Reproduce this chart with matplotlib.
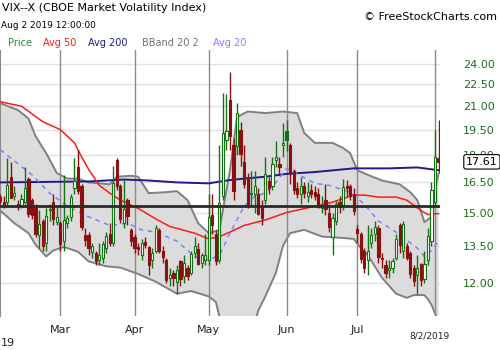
import matplotlib
matplotlib.use("Agg")
import matplotlib.pyplot as plt
from matplotlib.patches import Rectangle
from matplotlib.ticker import FixedLocator, NullLocator, FixedFormatter
import matplotlib.transforms as mtransforms

# daily candles, one per trading day from Feb 5 to Aug 2 2019
opens = [15.75, 15.5, 15.5, 16.8, 15.8, 15.25, 15.35, 15.5, 16.7, 15.6,
         15.2, 13.95, 14.6, 13.6, 15.1, 15.5, 14.55, 14.5, 13.7, 14.5,
         14.8, 16.2, 17.3, 16.3, 13.95, 13.95, 13.25, 13.2, 12.9, 13.0,
         13.4, 14.0, 13.6, 17.7, 16.3, 14.5, 15.6, 14.2, 13.9, 13.45,
         13.1, 13.65, 13.45, 12.9, 13.3, 14.2, 13.3, 12.9, 12.2, 12.4,
         12.05, 12.85, 12.25, 12.6, 12.4, 13.2, 13.35, 12.8, 12.9, 12.9,
         14.9, 14.0, 12.9, 15.8, 18.9, 21.4, 18.6, 18.5, 19.5, 17.6,
         16.8, 15.9, 15.9, 15.9, 15.3, 15.6, 16.55, 16.3, 17.7, 17.5,
         18.55, 19.4, 18.6, 17.1, 16.2, 15.9, 16.3, 15.8, 16.1, 16.0,
         15.9, 15.2, 15.6, 15.0, 13.9, 14.6, 15.5, 15.3, 16.3, 16.3,
         15.9, 14.25, 14.0, 13.3, 12.9, 13.6, 14.0, 14.3, 13.0, 12.7,
         12.5, 12.6, 13.0, 14.4, 13.3, 13.5, 13.2, 12.6, 12.3, 12.75,
         12.15, 12.9, 13.7, 15.5, 17.8]
highs = [15.9, 15.8, 17.8, 17.6, 16.3, 15.6, 15.9, 17.3, 16.8, 15.7,
         15.4, 15.1, 14.7, 15.2, 15.4, 15.9, 15.3, 14.6, 16.9, 14.9,
         15.9, 17.8, 18.3, 16.4, 14.3, 14.1, 13.6, 13.3, 13.6, 13.7,
         14.1, 14.5, 17.4, 17.8, 16.4, 16.6, 15.7, 14.3, 14.0, 13.6,
         13.8, 13.9, 13.5, 13.4, 14.4, 14.3, 13.5, 13.0, 12.6, 12.5,
         12.7, 12.9, 13.1, 12.7, 13.3, 13.9, 13.6, 13.2, 14.0, 15.9,
         15.9, 14.2, 18.6, 21.9, 21.8, 23.4, 19.0, 21.2, 20.0, 18.6,
         17.0, 17.1, 17.1, 16.2, 15.6, 17.9, 16.8, 17.9, 18.8, 17.9,
         19.9, 20.1, 18.7, 17.2, 16.5, 16.8, 16.5, 16.5, 16.4, 16.3,
         16.2, 15.8, 16.4, 15.4, 15.0, 15.6, 15.8, 16.7, 16.6, 16.4,
         16.2, 14.4, 14.1, 13.4, 14.4, 14.3, 14.6, 14.4, 13.2, 12.9,
         12.9, 13.0, 14.0, 14.5, 14.6, 13.6, 13.3, 12.7, 13.1, 12.8,
         13.3, 14.3, 16.5, 19.45, 20.1]
lows = [15.4, 15.2, 15.3, 15.7, 15.6, 15.1, 15.2, 15.4, 14.8, 14.7,
        13.9, 13.4, 13.3, 13.3, 14.6, 14.4, 14.4, 13.3, 13.3, 14.3,
        14.6, 15.9, 15.9, 14.2, 13.5, 13.1, 13.0, 12.7, 12.7, 12.8,
        13.2, 13.5, 13.5, 16.1, 14.5, 14.3, 14.4, 13.5, 13.2, 13.1,
        12.9, 13.4, 12.3, 12.6, 13.2, 13.2, 12.8, 12.0, 11.9, 11.9,
        11.6, 11.9, 12.0, 12.1, 12.3, 13.0, 12.7, 12.6, 12.7, 12.7,
        14.0, 12.7, 12.8, 15.6, 18.3, 18.3, 15.6, 18.0, 17.4, 16.2,
        15.2, 15.3, 15.0, 14.9, 14.4, 15.4, 15.9, 16.1, 17.3, 16.9,
        17.9, 18.2, 16.4, 15.9, 15.7, 15.4, 15.7, 15.5, 15.7, 15.6,
        15.2, 15.0, 14.9, 14.1, 13.1, 14.4, 15.0, 15.1, 15.8, 15.6,
        14.9, 13.6, 12.8, 12.4, 12.3, 13.4, 13.7, 12.8, 12.6, 12.2,
        12.2, 12.4, 12.9, 13.2, 13.0, 12.9, 12.2, 11.9, 11.6, 11.9,
        12.0, 12.7, 13.5, 15.3, 17.0]
closes = [15.57, 15.38, 16.37, 15.72, 15.97, 15.43, 15.65, 16.22, 14.91, 14.88,
          14.02, 14.46, 13.51, 14.85, 15.17, 14.70, 14.78, 13.57, 14.63, 14.74,
          15.74, 16.59, 16.05, 14.33, 13.77, 13.41, 13.50, 12.88, 13.10, 13.56,
          13.91, 13.63, 16.48, 16.33, 14.68, 15.15, 14.85, 13.71, 13.40, 13.36,
          13.60, 13.55, 12.70, 13.18, 14.28, 13.30, 13.02, 12.10, 12.32, 12.18,
          12.50, 12.15, 12.80, 12.28, 13.14, 13.50, 12.73, 13.11, 13.12, 14.80,
          14.42, 12.87, 15.44, 19.32, 19.40, 19.10, 16.04, 20.55, 18.06, 16.44,
          15.29, 15.96, 16.31, 14.95, 14.75, 16.92, 16.20, 17.50, 17.90, 17.30,
          18.71, 18.86, 16.97, 16.09, 15.93, 16.30, 15.94, 15.99, 15.91, 15.82,
          15.28, 15.35, 15.15, 14.33, 14.75, 15.40, 15.26, 16.28, 16.21, 15.82,
          15.08, 14.06, 12.93, 12.57, 13.28, 13.96, 14.35, 13.03, 12.93, 12.39,
          12.60, 12.86, 13.80, 13.53, 14.45, 13.00, 12.35, 12.07, 12.60, 12.10,
          12.75, 13.94, 16.12, 17.87, 17.61]

# indicator lines (trading-day number, value)
ma50_days = [0, 6, 9, 12, 17, 21, 23, 25, 28, 31, 34, 39, 44, 48, 55, 59, 62, 65,
             69, 75, 81, 89, 94, 100, 103, 107, 112, 115, 119, 121, 124]
ma50 = [21.3, 21.0, 20.5, 20.0, 19.5, 18.7, 17.9, 17.2, 16.35, 15.95, 15.6, 15.2,
        14.7, 14.35, 14.05, 13.8, 13.9, 14.1, 14.4, 14.65, 15.0, 15.3, 15.5, 15.85,
        15.85, 15.75, 15.75, 15.6, 15.1, 14.9, 14.95]
ma200_days = [0, 25, 35, 42, 50, 59, 64, 69, 75, 81, 89, 100, 110, 118, 122, 124]
ma200 = [16.5, 16.55, 16.65, 16.6, 16.5, 16.45, 16.6, 16.7, 16.8, 16.95, 17.05,
         17.25, 17.25, 17.3, 17.2, 17.15]
avg20_days = [0, 9, 14, 19, 25, 31, 36, 40, 44, 50, 53, 55, 59, 62, 65, 69, 72, 75,
              78, 81, 84, 89, 93, 99, 103, 107, 112, 118, 120, 122, 124]
avg20 = [18.3, 16.9, 15.95, 15.3, 14.8, 14.4, 14.5, 14.2, 14.1, 13.7, 13.3, 13.05,
         12.9, 13.1, 14.05, 15.3, 15.8, 15.95, 16.5, 17.25, 16.95, 16.45, 16.35, 16.0,
         15.4, 14.6, 14.1, 13.4, 13.05, 13.3, 13.7]
bb_up_days = [0, 5, 8, 10, 13, 16, 19, 22, 25, 31, 33, 37, 39, 42, 47, 50, 53, 56,
              59, 62, 65, 67, 70, 75, 80, 84, 86, 89, 94, 97, 99, 101, 104, 108,
              113, 116, 118, 120, 122, 123, 124]
bb_up = [21.2, 20.75, 20.2, 19.1, 18.1, 17.0, 16.7, 16.7, 16.5, 16.4, 16.8, 16.85,
         16.8, 15.95, 16.0, 16.05, 15.6, 14.5, 14.05, 14.2, 17.15, 20.3, 20.65, 20.55,
         20.65, 20.55, 19.3, 18.7, 18.7, 18.4, 18.1, 17.15, 16.9, 16.6, 16.4, 16.0,
         15.6, 14.55, 14.8, 16.2, 16.95]
bb_lo_days = [0, 4, 8, 10, 13, 15, 18, 22, 25, 30, 34, 39, 44, 50, 54, 59, 61, 62,
              65, 68, 71, 73, 75, 78, 80, 82, 86, 91, 96, 100, 102, 104, 108, 112,
              115, 117, 120, 121, 122, 123, 124]
bb_lo = [15.1, 14.5, 14.05, 13.55, 13.05, 13.3, 13.45, 13.25, 12.85, 12.65, 12.6,
         12.35, 12.05, 11.6, 11.7, 11.5, 11.3, 10.8, 10.1, 9.9, 10.1, 11.0, 11.5, 12.4,
         13.5, 14.05, 14.2, 13.9, 13.85, 13.8, 13.4, 13.1, 12.2, 11.6, 11.45, 11.55,
         11.55, 11.4, 11.2, 10.9, 10.6]

ref_level = 15.3
last_close = 17.61
price_levels = [12.0, 13.5, 15.0, 16.5, 18.0, 19.5, 21.0, 22.5, 24.0]
month_labels = ["Mar", "Apr", "May", "Jun", "Jul"]
month_days = [17, 38, 59, 81, 101]
aug_day = 123

UP = "#137313"
DOWN = "#8b1111"

fig = plt.figure(figsize=(5, 3.5), dpi=100)
ax = fig.add_axes([0, 34 / 350, 440 / 500, 266 / 350])
ax.set_yscale("log")
ax.set_ylim(10.81, 25.09)
ax.set_xlim(-0.06, 124.41)

# Bollinger band
band_x = bb_up_days + bb_lo_days[::-1]
band_y = bb_up + bb_lo[::-1]
ax.fill(band_x, band_y, color="#dcdcdc", lw=0, zorder=1)
ax.plot(bb_up_days, bb_up, color="#808080", lw=1.4, zorder=2)
ax.plot(bb_lo_days, bb_lo, color="#808080", lw=1.4, zorder=2)

for d in month_days + [aug_day]:
    ax.axvline(d, color="#8a8a8a", lw=1, zorder=2.2)

ax.plot(ma200_days, ma200, color="#1c1c8c", lw=1.4, zorder=3)
ax.plot(ma50_days, ma50, color="#ff1a1a", lw=1.1, zorder=3)
ax.plot(avg20_days, avg20, color="#8080ff", lw=1.1, ls=(0, (3, 3)), zorder=3)

# candles
w = 0.62
for i in range(len(closes)):
    o, h, l, c = opens[i], highs[i], lows[i], closes[i]
    prev = closes[i - 1] if i > 0 else o
    col = UP if c >= prev else DOWN
    lo_b, hi_b = min(o, c), max(o, c)
    ax.plot([i, i], [hi_b, h], color=col, lw=1, zorder=4, solid_capstyle="butt")
    ax.plot([i, i], [l, lo_b], color=col, lw=1, zorder=4, solid_capstyle="butt")
    face = col if c < o else "white"
    ax.add_patch(Rectangle((i - w / 2, lo_b), w, max(hi_b - lo_b, 0.02),
                           facecolor=face, edgecolor=col, lw=0.8, zorder=5))

ax.axhline(ref_level, color="#2a2a2a", lw=2, zorder=6)

# axes styling
ax.yaxis.set_major_locator(FixedLocator(price_levels))
ax.yaxis.set_minor_locator(NullLocator())
ax.yaxis.set_major_formatter(FixedFormatter([f"{v:.2f}" for v in price_levels]))
ax.yaxis.tick_right()
ax.tick_params(axis="y", length=0, pad=16.5, labelsize=8, labelcolor="#1d6b1d")
ax.set_xticks([])
ax.grid(axis="y", color="#e2e2e2", lw=1)
ax.set_axisbelow(True)
for s in ["top", "right", "bottom"]:
    ax.spines[s].set_visible(False)
ax.spines["left"].set_color("#8a8a8a")

trans = mtransforms.blended_transform_factory(ax.transData, ax.transAxes)
for d, lab in zip(month_days, month_labels):
    ax.text(d, -0.053, lab, transform=trans, ha="center", va="center", fontsize=8,
            color="#222222", clip_on=False)
fig.text(430 / 500, 1 - 336 / 350, "8/2/2019", ha="center", va="center",
         fontsize=6.5, color="#222222")
fig.text(0.5 / 500, 1 - 343 / 350, "19", ha="left", va="center", fontsize=8, color="#222222")

# last price tag
tag = mtransforms.blended_transform_factory(ax.transAxes, ax.transData)
ax.text(466 / 440, last_close, f"{last_close:.2f}", transform=tag, ha="left",
        va="center", fontsize=8, color="black", zorder=10, clip_on=False,
        bbox=dict(boxstyle="round,pad=0.2", fc="white", ec="black", lw=0.8))

# header
fig.text(2 / 500, 1 - 8 / 350, "VIX--X (CBOE Market Volatility Index)", fontsize=8,
         va="center", color="black")
fig.text(1 / 500, 1 - 26 / 350, "Aug 2 2019 12:00:00", fontsize=6.5, va="center",
         color="black")
fig.text(497 / 500, 1 - 17 / 350, "\u00a9 FreeStockCharts.com", fontsize=8,
         ha="right", va="center", color="black")
legend_items = [("Price", 8, "#2e8b2e"), ("Avg 50", 43, "#ff1a1a"),
                ("Avg 200", 88, "#1c1c8c"), ("BBand 20 2", 142, "#707070"),
                ("Avg 20", 213, "#8080ff")]
for label, px, col in legend_items:
    fig.text(px / 500, 1 - 43 / 350, label, fontsize=7, va="center", color=col)

fig.savefig("out.png", dpi=100)
